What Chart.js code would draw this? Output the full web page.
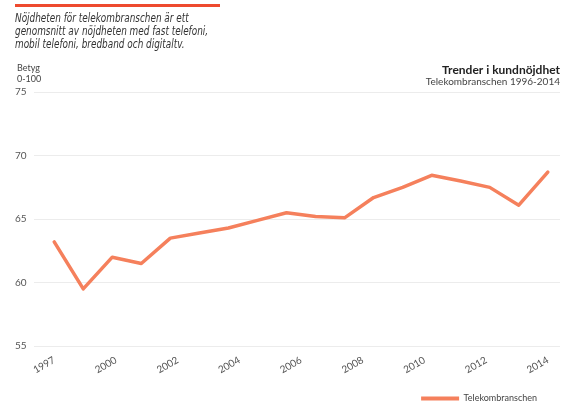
<!DOCTYPE html>
<html>
<head>
<meta charset="utf-8">
<script src="https://cdn.jsdelivr.net/npm/chart.js@4"></script>
<style>
  html, body { margin: 0; padding: 0; background: #fff; }
  #wrap { position: relative; width: 580px; height: 411px; overflow: hidden; }
  #chart { position: absolute; left: 0; top: 0; }
  #redbar { position: absolute; left: 15px; top: 4px; width: 205px; height: 3px; background: #ee4a2f; }
  #intro { position: absolute; left: 15px; top: 11px; font-family: "DejaVu Sans Condensed", "DejaVu Sans", sans-serif; font-style: italic; font-size: 13px; line-height: 13px; color: #333; transform: scaleX(0.76); transform-origin: 0 0; white-space: nowrap; }
  #unit { position: absolute; left: 17px; top: 62px; font-family: Lato, sans-serif; font-size: 9px; line-height: 11px; color: #444; }
</style>
</head>
<body>
<div id="wrap">
  <canvas id="chart" width="580" height="411"></canvas>
  <div id="redbar"></div>
  <div id="intro">Nöjdheten för telekombranschen är ett<br>genomsnitt av nöjdheten med fast telefoni,<br>mobil telefoni, bredband och digitaltv.</div>
  <div id="unit">Betyg<br>0-100</div>
</div>
<script>
const years = ['1997','1998','1999','2000','2001','2002','2003','2004','2005','2006','2007','2008','2009','2010','2011','2012','2013','2014'];
const telekom = [63.2, 59.5, 62.0, 61.5, 63.5, 63.9, 64.3, 64.9, 65.5, 65.2, 65.1, 66.7, 67.5, 68.45, 68.0, 67.5, 66.1, 68.7];
const xTickLabels = ['1997','2000','2002','2004','2006','2008','2010','2012','2014'];
const seriesName = 'Telekombranschen';
const lineColor = '#f5805c';

const points = telekom.map((v, i) => ({ x: i, y: v }));
const lastIdx = years.length - 1;
const bottomPad = 8;

const legendShift = {
  id: 'legendShift',
  afterLayout(chart) {
    const lg = chart.legend;
    if (!lg) return;
    lg.left -= 15; lg.right -= 15;
    lg.top += bottomPad + 2; lg.bottom += bottomPad + 2;
  }
};

new Chart(document.getElementById('chart'), {
  type: 'line',
  data: {
    datasets: [{
      label: seriesName,
      data: points,
      borderColor: lineColor,
      backgroundColor: lineColor,
      borderWidth: 3.5,
      pointRadius: 0,
      tension: 0,
      borderJoinStyle: 'round',
      borderCapStyle: 'round'
    }]
  },
  plugins: [legendShift],
  options: {
    responsive: false,
    animation: false,
    devicePixelRatio: 1,
    layout: { padding: { left: 8, right: 20, top: 0, bottom: bottomPad } },
    scales: {
      x: {
        type: 'linear',
        min: -0.71,
        max: lastIdx + 0.42,
        grid: { display: false },
        border: { display: false },
        afterBuildTicks: (axis) => {
          axis.ticks = xTickLabels.map((_, k) => ({ value: k * lastIdx / (xTickLabels.length - 1) }));
        },
        ticks: {
          autoSkip: false,
          minRotation: 30,
          maxRotation: 30,
          padding: 0,
          color: '#555',
          font: { family: 'Lato', size: 10 },
          callback: (value, index) => xTickLabels[index]
        }
      },
      y: {
        min: 55,
        max: 75,
        grid: { color: '#ececec', lineWidth: 1, drawTicks: false },
        border: { display: false },
        ticks: {
          stepSize: 5,
          padding: 7,
          color: '#555',
          font: { family: 'Lato', size: 10 }
        }
      }
    },
    plugins: {
      title: {
        display: true,
        text: 'Trender i kundnöjdhet',
        align: 'end',
        color: '#222',
        font: { family: 'Lato', size: 12, weight: 'bold', lineHeight: 1.1 },
        padding: { top: 64, bottom: 0 }
      },
      subtitle: {
        display: true,
        text: 'Telekombranschen 1996-2014',
        align: 'end',
        color: '#444',
        font: { family: 'Lato', size: 10, lineHeight: 1.0 },
        padding: { top: 0, bottom: 5 }
      },
      legend: {
        display: true,
        position: 'bottom',
        align: 'end',
        labels: {
          boxWidth: 38,
          boxHeight: 4,
          padding: 8,
          color: '#444',
          font: { family: 'Lato', size: 9 },
          generateLabels: (chart) => Chart.defaults.plugins.legend.labels.generateLabels(chart).map(l => Object.assign(l, { lineWidth: 0, fillStyle: lineColor }))
        }
      },
      tooltip: { enabled: false }
    }
  }
});
</script>
</body>
</html>
